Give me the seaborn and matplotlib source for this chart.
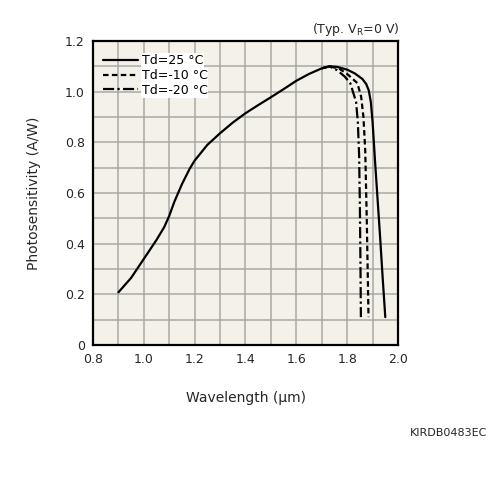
import matplotlib
matplotlib.use("Agg")
import matplotlib.pyplot as plt
import seaborn as sns
import pandas as pd

# ---- data ----
wl_25 = [0.90, 0.95, 1.00, 1.05, 1.08, 1.10, 1.12, 1.15, 1.18, 1.20, 1.25, 1.30, 1.35,
         1.40, 1.45, 1.50, 1.55, 1.60, 1.65, 1.70, 1.73, 1.76, 1.80, 1.83, 1.86, 1.875,
         1.885, 1.893, 1.90, 1.91, 1.92, 1.93, 1.94, 1.95]
ps_25 = [0.208, 0.265, 0.34, 0.415, 0.465, 0.51, 0.565, 0.635, 0.695, 0.728, 0.79, 0.836,
         0.878, 0.915, 0.947, 0.978, 1.01, 1.043, 1.07, 1.092, 1.10, 1.098, 1.087, 1.072,
         1.05, 1.03, 1.005, 0.96, 0.88, 0.72, 0.57, 0.42, 0.26, 0.11]

wl_m10 = [1.70, 1.73, 1.77, 1.80, 1.84, 1.855, 1.864, 1.871, 1.877, 1.884]
ps_m10 = [1.092, 1.10, 1.09, 1.07, 1.034, 0.98, 0.90, 0.77, 0.50, 0.11]

wl_m20 = [1.70, 1.73, 1.76, 1.79, 1.812, 1.835, 1.842, 1.847, 1.850, 1.852, 1.854]
ps_m20 = [1.092, 1.10, 1.085, 1.06, 1.034, 0.96, 0.88, 0.75, 0.55, 0.35, 0.11]

labels = ["Td=25 °C", "Td=-10 °C", "Td=-20 °C"]

df = pd.concat([
    pd.DataFrame({"wl": wl_25, "ps": ps_25, "series": labels[0]}),
    pd.DataFrame({"wl": wl_m10, "ps": ps_m10, "series": labels[1]}),
    pd.DataFrame({"wl": wl_m20, "ps": ps_m20, "series": labels[2]}),
])

sns.set_style("ticks")
plt.rcParams["font.family"] = ["DejaVu Sans"]

fig = plt.figure(figsize=(5, 5), dpi=100)
ax = fig.add_axes([0.186, 0.31, 0.61, 0.608])
ax.set_facecolor("#f4f2e8")

sns.lineplot(data=df, x="wl", y="ps", hue="series", style="series",
             palette=["black"] * 3,
             dashes={labels[0]: "", labels[1]: (2.5, 1.5), labels[2]: (5, 1.5, 1, 1.5)},
             linewidth=1.6, sort=False, estimator=None, ax=ax)

ax.set_xlim(0.8, 2.0)
ax.set_ylim(0, 1.2)
ax.set_xticks([0.8, 1.0, 1.2, 1.4, 1.6, 1.8, 2.0])
ax.set_xticklabels(["0.8", "1.0", "1.2", "1.4", "1.6", "1.8", "2.0"])
ax.set_yticks([0, 0.2, 0.4, 0.6, 0.8, 1.0, 1.2])
ax.set_yticklabels(["0", "0.2", "0.4", "0.6", "0.8", "1.0", "1.2"])
ax.set_xticks([0.8 + 0.1 * i for i in range(13)], minor=True)
ax.set_yticks([0.1 * i for i in range(13)], minor=True)
ax.grid(True, which="both", color="#a8a8a8", linewidth=1.1)
ax.set_axisbelow(True)
ax.tick_params(which="both", length=0, labelsize=9, pad=6)
for s in ax.spines.values():
    s.set_linewidth(1.6)
    s.set_color("black")

ax.set_xlabel("Wavelength (µm)", fontsize=10, labelpad=18)
ax.set_ylabel("Photosensitivity (A/W)", fontsize=10, labelpad=17)

leg = ax.legend(loc="upper left", frameon=False, fontsize=9, handlelength=2.8,
                handletextpad=0.3, labelspacing=0.15, borderaxespad=0.4,
                bbox_to_anchor=(0.0, 0.99))
for t in leg.get_texts():
    t.set_color("black")
    t.set_bbox(dict(facecolor="white", edgecolor="none", pad=0.5))

fig.text(0.8, 0.94, "(Typ. V$_\\mathregular{R}$=0 V)", ha="right", va="center", fontsize=9)
fig.text(0.975, 0.135, "KIRDB0483EC", ha="right", va="center", fontsize=8)

fig.savefig("out.png", dpi=100, facecolor="white")
